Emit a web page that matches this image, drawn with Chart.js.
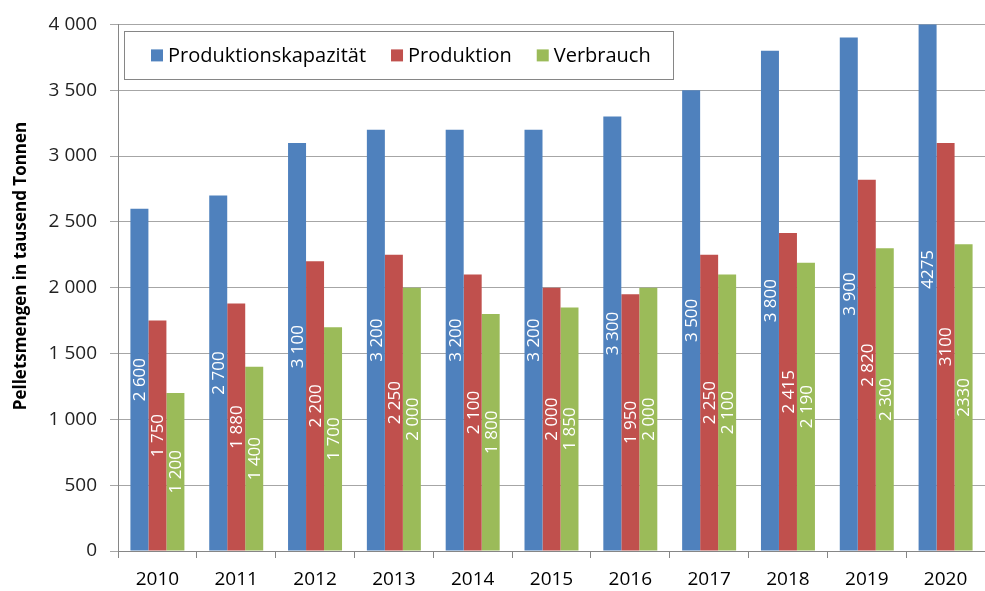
<!DOCTYPE html>
<html><head><meta charset="utf-8">
<script src="https://cdn.jsdelivr.net/npm/chart.js@4/dist/chart.umd.min.js"></script>
<style>html,body{margin:0;padding:0;background:#fff}#wrap{width:985px;height:591px}</style>
</head><body><div id="wrap"><canvas id="c" width="985" height="591"></canvas></div>
<script>
const years = ['2010','2011','2012','2013','2014','2015','2016','2017','2018','2019','2020'];
const kapazitaet = [2600,2700,3100,3200,3200,3200,3300,3500,3800,3900,4275];
const produktion = [1750,1880,2200,2250,2100,2000,1950,2250,2415,2820,3100];
const verbrauch = [1200,1400,1700,2000,1800,1850,2000,2100,2190,2300,2330];
const seriesNames = ['Produktionskapazität','Produktion','Verbrauch'];
const seriesColors = ['#4F81BD','#C0504D','#9BBB59'];
const yMin = 0, yMax = 4000, yStep = 500;
const yTitle = 'Pelletsmengen in tausend Tonnen';
const plainYears = ['2020']; // labels shown without thousands separator

const FONT = "'Open Sans', sans-serif";
function fmt(v){ return String(v).replace(/\B(?=(\d{3})+(?!\d))/g, ' '); }

const valueLabels = {
  id: 'valueLabels',
  afterDatasetsDraw(chart){
    const ctx = chart.ctx, a = chart.chartArea;
    ctx.save();
    ctx.beginPath(); ctx.rect(a.left, a.top, a.right - a.left, a.bottom - a.top); ctx.clip();
    ctx.font = '17px ' + FONT;
    ctx.fillStyle = '#ffffff';
    ctx.textAlign = 'center';
    ctx.textBaseline = 'middle';
    chart.data.datasets.forEach((ds, i) => {
      const meta = chart.getDatasetMeta(i);
      meta.data.forEach((el, j) => {
        const p = el.getProps(['x','y','base'], true);
        const cy = (p.y + p.base) / 2;
        const v = ds.data[j];
        const txt = plainYears.includes(chart.data.labels[j]) ? String(v) : fmt(v);
        ctx.save();
        ctx.translate(p.x, cy);
        ctx.rotate(-Math.PI/2);
        ctx.fillText(txt, 0, 1);
        ctx.restore();
      });
    });
    ctx.restore();
  }
};

const axisTitle = {
  id: 'axisTitle',
  afterDraw(chart){
    const ctx = chart.ctx;
    ctx.save();
    ctx.font = 'bold 17px ' + FONT;
    ctx.fillStyle = '#000';
    ctx.textAlign = 'center';
    ctx.textBaseline = 'middle';
    ctx.translate(21, 266);
    ctx.rotate(-Math.PI/2);
    ctx.fillText(yTitle, 0, 0);
    ctx.restore();
  }
};

const boxLegend = {
  id: 'boxLegend',
  afterDraw(chart){
    const ctx = chart.ctx, a = chart.chartArea;
    ctx.save();
    ctx.font = '20px ' + FONT;
    const padL = 27, padR = 22, sq = 12, gapT = 5, gapE = 25;
    let w = padL + padR;
    const widths = chart.data.datasets.map(d => ctx.measureText(d.label).width);
    widths.forEach((tw, i) => { w += sq + gapT + tw + (i < widths.length - 1 ? gapE : 0); });
    const bx = a.left + 6, by = a.top + 7, bh = 48;
    ctx.fillStyle = '#fff';
    ctx.fillRect(bx, by, w, bh);
    ctx.strokeStyle = '#868686'; ctx.lineWidth = 1;
    ctx.strokeRect(Math.round(bx) + 0.5, Math.round(by) + 0.5, Math.round(w), bh);
    let x = bx + padL;
    const cy = by + bh / 2;
    ctx.textBaseline = 'middle'; ctx.textAlign = 'left';
    chart.data.datasets.forEach((d, i) => {
      ctx.fillStyle = d.backgroundColor;
      ctx.fillRect(x, cy - sq/2, sq, sq);
      ctx.fillStyle = '#000';
      ctx.fillText(d.label, x + sq + gapT, cy + 1);
      x += sq + gapT + widths[i] + gapE;
    });
    ctx.restore();
  }
};

const seriesData = [kapazitaet, produktion, verbrauch];
new Chart(document.getElementById('c'), {
  type: 'bar',
  data: {
    labels: years,
    datasets: seriesData.map((d, i) => ({
      label: seriesNames[i], data: d, backgroundColor: seriesColors[i],
      borderWidth: 0, categoryPercentage: 0.685, barPercentage: 1.0
    }))
  },
  options: {
    responsive: false, animation: false, devicePixelRatio: 1,
    layout: { padding: { top: 23, right: 0, bottom: 0, left: 0 } },
    plugins: { legend: { display: false }, tooltip: { enabled: false } },
    scales: {
      x: {
        grid: { drawOnChartArea: false, drawTicks: true, tickLength: 7, color: '#868686', offset: true },
        border: { color: '#868686' },
        ticks: { font: { family: FONT, size: 19 }, color: '#000', padding: 10, maxRotation: 0 },
        afterFit(s){ s.height = 40; }
      },
      y: {
        min: yMin, max: yMax,
        ticks: { stepSize: yStep, font: { family: FONT, size: 19 }, color: '#222', padding: 13, callback: v => fmt(v) },
        grid: { color: '#a6a6a6', tickLength: 8 },
        border: { color: '#868686' },
        title: { display: false },
        afterFit(s){ s.width = 118; }
      }
    }
  },
  plugins: [valueLabels, axisTitle, boxLegend]
});
</script>
</body></html>
